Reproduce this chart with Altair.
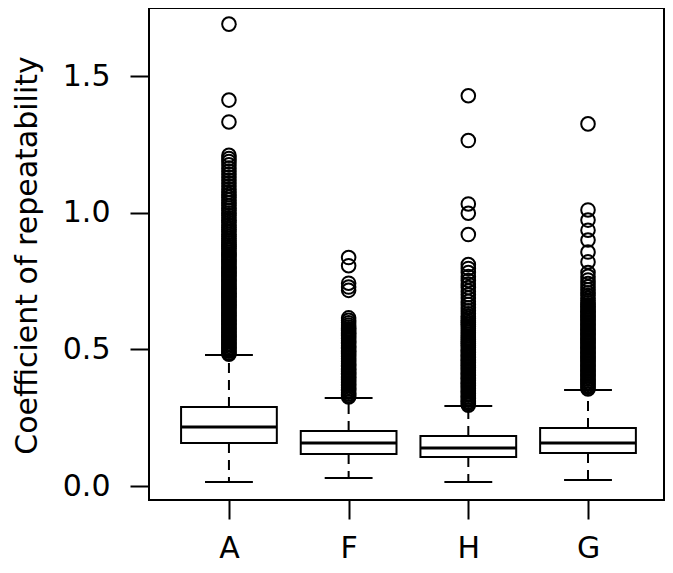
import altair as alt
import pandas as pd

groups = ["A", "F", "H", "G"]
positions = [1, 2, 3, 4]
q1 = [0.157, 0.117, 0.106, 0.121]
median = [0.216, 0.157, 0.139, 0.157]
q3 = [0.289, 0.201, 0.183, 0.212]
whisker_lo = [0.015, 0.029, 0.015, 0.022]
whisker_hi = [0.479, 0.322, 0.293, 0.351]

out_A = [0.482, 0.487, 0.493, 0.499, 0.505, 0.511, 0.517, 0.522, 0.528, 0.534, 0.540, 0.546,
         0.552, 0.557, 0.563, 0.569, 0.575, 0.581, 0.587, 0.592, 0.598, 0.604, 0.610, 0.616,
         0.622, 0.627, 0.633, 0.639, 0.645, 0.651, 0.657, 0.662, 0.668, 0.674, 0.680, 0.686,
         0.692, 0.697, 0.703, 0.709, 0.715, 0.721, 0.727, 0.732, 0.738, 0.744, 0.750, 0.756,
         0.762, 0.768, 0.774, 0.780, 0.786, 0.792, 0.798, 0.804, 0.811, 0.817, 0.823, 0.829,
         0.836, 0.842, 0.849, 0.855, 0.862, 0.869, 0.876, 0.883, 0.890, 0.897, 0.905, 0.913,
         0.921, 0.930, 0.938, 0.946, 0.955, 0.964, 0.972, 0.981, 0.990, 0.999, 1.008, 1.017,
         1.026, 1.036, 1.046, 1.056, 1.066, 1.076, 1.086, 1.097, 1.108, 1.119, 1.130, 1.141,
         1.152, 1.163, 1.175, 1.187, 1.198, 1.210, 1.332, 1.412, 1.690]
out_F = [0.326, 0.331, 0.337, 0.343, 0.349, 0.355, 0.361, 0.367, 0.372, 0.378, 0.384, 0.390,
         0.396, 0.402, 0.408, 0.413, 0.419, 0.425, 0.431, 0.437, 0.443, 0.449, 0.455, 0.461,
         0.467, 0.473, 0.479, 0.485, 0.491, 0.497, 0.503, 0.509, 0.515, 0.521, 0.527, 0.533,
         0.539, 0.545, 0.551, 0.557, 0.563, 0.569, 0.575, 0.582, 0.589, 0.597, 0.606, 0.615,
         0.716, 0.728, 0.742, 0.806, 0.836]
out_H = [0.296, 0.302, 0.308, 0.314, 0.320, 0.326, 0.332, 0.338, 0.344, 0.350, 0.356, 0.362,
         0.368, 0.374, 0.380, 0.386, 0.392, 0.398, 0.404, 0.410, 0.416, 0.422, 0.428, 0.434,
         0.440, 0.446, 0.452, 0.458, 0.464, 0.470, 0.476, 0.482, 0.488, 0.494, 0.500, 0.507,
         0.514, 0.521, 0.528, 0.535, 0.542, 0.549, 0.556, 0.563, 0.570, 0.577, 0.584, 0.591,
         0.598, 0.605, 0.613, 0.621, 0.630, 0.641, 0.652, 0.664, 0.676, 0.688, 0.700, 0.713,
         0.726, 0.739, 0.752, 0.766, 0.781, 0.796, 0.810, 0.920, 0.998, 1.032, 1.264, 1.428]
out_G = [0.355, 0.361, 0.367, 0.373, 0.379, 0.385, 0.391, 0.397, 0.403, 0.409, 0.415, 0.421,
         0.427, 0.433, 0.439, 0.445, 0.451, 0.457, 0.463, 0.469, 0.475, 0.481, 0.487, 0.493,
         0.499, 0.505, 0.511, 0.517, 0.523, 0.529, 0.535, 0.541, 0.547, 0.553, 0.559, 0.565,
         0.571, 0.577, 0.583, 0.589, 0.595, 0.601, 0.607, 0.613, 0.619, 0.625, 0.631, 0.637,
         0.643, 0.649, 0.656, 0.663, 0.670, 0.678, 0.687, 0.697, 0.707, 0.718, 0.729, 0.741,
         0.754, 0.767, 0.781, 0.820, 0.856, 0.900, 0.936, 0.973, 1.010, 1.325]

y_ticks = [0.0, 0.5, 1.0, 1.5]
y_title = "Coefficient of repeatability"

box = pd.DataFrame({
    "group": groups, "pos": positions, "q1": q1, "median": median, "q3": q3,
    "lo": whisker_lo, "hi": whisker_hi,
})
box["left"] = box["pos"] - 0.4
box["right"] = box["pos"] + 0.4
box["capL"] = box["pos"] - 0.2
box["capR"] = box["pos"] + 0.2

rows = []
for p, vals in zip(positions, [out_A, out_F, out_H, out_G]):
    for v in vals:
        rows.append({"pos": p, "value": v})
outl = pd.DataFrame(rows)

FONT = "DejaVu Sans"
xscale = alt.Scale(domain=[0.332, 4.635], nice=False, zero=False)
yscale = alt.Scale(domain=[-0.0512, 1.749], nice=False, zero=False)

xaxis = alt.Axis(values=positions, labelExpr="['','A','F','H','G'][datum.value]",
                 title=None, grid=False, domain=False, ticks=True, tickSize=19,
                 tickWidth=2, tickColor="black", labelFont=FONT, labelFontSize=30,
                 labelColor="black", labelBaseline="alphabetic", labelPadding=38)
yaxis = alt.Axis(values=y_ticks, format=".1f", title=y_title, grid=False, domain=False,
                 tickSize=19, tickWidth=2, tickColor="black", labelFont=FONT,
                 labelFontSize=30, labelColor="black", labelPadding=20,
                 labelAlign="right", labelBaseline="middle",
                 titleFont=FONT, titleFontSize=30, titleFontWeight="normal",
                 titleColor="black", titleX=-113, titleY=247, titleAngle=270,
                 titleBaseline="alphabetic", titleAlign="center")

def X(f):
    return alt.X(f, type="quantitative", scale=xscale, axis=xaxis)

def Y(f):
    return alt.Y(f, type="quantitative", scale=yscale, axis=yaxis)

base = alt.Chart(box)

upper_w = base.mark_rule(color="black", strokeWidth=2, strokeDash=[10, 7]).encode(
    x=X("pos"), y=Y("q3"), y2="hi")
lower_w = base.mark_rule(color="black", strokeWidth=2, strokeDash=[10, 7]).encode(
    x=X("pos"), y=Y("q1"), y2="lo")
cap_hi = base.mark_rule(color="black", strokeWidth=2).encode(
    x=X("capL"), x2="capR", y=Y("hi"))
cap_lo = base.mark_rule(color="black", strokeWidth=2).encode(
    x=X("capL"), x2="capR", y=Y("lo"))
rect = base.mark_rect(fill="white", stroke="black", strokeWidth=2).encode(
    x=X("left"), x2="right", y=Y("q1"), y2="q3")
med = base.mark_rule(color="black", strokeWidth=3).encode(
    x=X("left"), x2="right", y=Y("median"))
pts = alt.Chart(outl).mark_point(shape="circle", filled=False, size=185, strokeWidth=2,
                                  color="black", opacity=1).encode(
    x=X("pos"), y=Y("value"))

chart = alt.layer(upper_w, lower_w, cap_hi, cap_lo, rect, med, pts).properties(
    width=515, height=492, autosize="none", background="white",
    padding={"left": 141, "top": 0, "right": 1, "bottom": 65},
).configure_view(stroke="black", strokeWidth=2)

chart.save("out.html", embed_options={"renderer": "svg", "actions": False})
